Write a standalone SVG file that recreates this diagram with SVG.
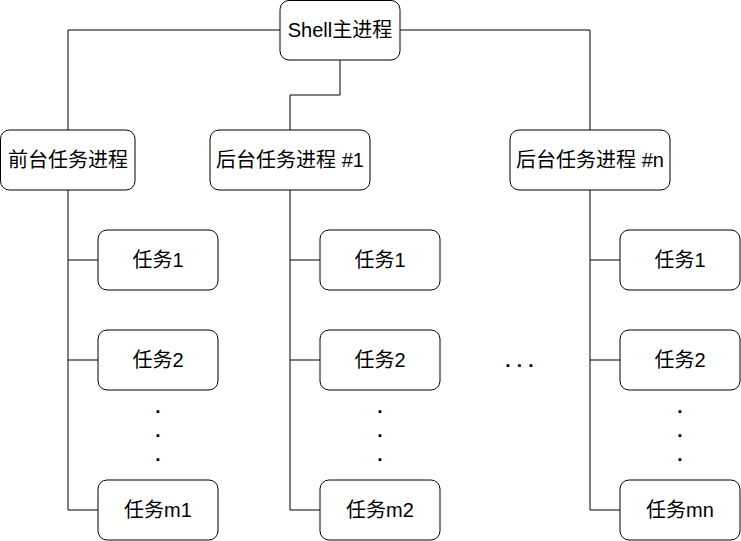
<svg xmlns="http://www.w3.org/2000/svg" width="741" height="541" viewBox="0 0 741 541">
<style>
.box{fill:#fff;stroke:#000;stroke-width:1}
.lbl{font-family:"Liberation Sans","Noto Sans CJK SC",sans-serif;font-size:20px;fill:#000;text-anchor:middle;dominant-baseline:central}
.dot{font-family:"Liberation Sans","Noto Sans CJK SC",sans-serif;font-size:19px;font-weight:bold;fill:#000;text-anchor:middle}
.c{fill:none;stroke:#000;stroke-width:1}
</style>
<rect width="741" height="541" fill="#fff"/>
<g id="connectors">
<path class="c" d="M280 30 H68 V130"/>
<path class="c" d="M400 30 H590 V130"/>
<path class="c" d="M340 60 V95 H290 V130"/>
<path class="c" d="M68 190 V510 H98 M68 260 H98 M68 360 H98"/>
<path class="c" d="M290 190 V510 H320 M290 260 H320 M290 360 H320"/>
<path class="c" d="M590 190 V510 H620 M590 260 H620 M590 360 H620"/>
</g>
<g id="shell"><rect class="box" x="280" y="0.5" width="120" height="59.5" rx="9"/><text class="lbl" x="340" y="30">Shell主进程</text></g>
<g id="fg"><rect class="box" x="0.5" y="130" width="134.5" height="60" rx="9"/><text class="lbl" x="68" y="160">前台任务进程</text></g>
<g id="bg1"><rect class="box" x="210" y="130" width="160" height="60" rx="9"/><text class="lbl" x="290" y="160">后台任务进程 #1</text></g>
<g id="bgn"><rect class="box" x="510" y="130" width="160" height="60" rx="9"/><text class="lbl" x="590" y="160">后台任务进程 #n</text></g>
<g id="fg-t1"><rect class="box" x="98" y="230" width="120" height="60" rx="9"/><text class="lbl" x="158" y="260">任务1</text></g>
<g id="fg-t2"><rect class="box" x="98" y="330" width="120" height="60" rx="9"/><text class="lbl" x="158" y="360">任务2</text></g>
<g id="fg-tm"><rect class="box" x="98" y="480" width="120" height="60" rx="9"/><text class="lbl" x="158" y="510">任务m1</text></g>
<g id="bg1-t1"><rect class="box" x="320" y="230" width="120" height="60" rx="9"/><text class="lbl" x="380" y="260">任务1</text></g>
<g id="bg1-t2"><rect class="box" x="320" y="330" width="120" height="60" rx="9"/><text class="lbl" x="380" y="360">任务2</text></g>
<g id="bg1-tm"><rect class="box" x="320" y="480" width="120" height="60" rx="9"/><text class="lbl" x="380" y="510">任务m2</text></g>
<g id="bgn-t1"><rect class="box" x="620" y="230" width="120" height="60" rx="9"/><text class="lbl" x="680" y="260">任务1</text></g>
<g id="bgn-t2"><rect class="box" x="620" y="330" width="120" height="60" rx="9"/><text class="lbl" x="680" y="360">任务2</text></g>
<g id="bgn-tm"><rect class="box" x="620" y="480" width="120" height="60" rx="9"/><text class="lbl" x="680" y="510">任务mn</text></g>
<g id="dots">
<text class="dot" x="158" y="412.5">.</text><text class="dot" x="158" y="436.5">.</text><text class="dot" x="158" y="460.5">.</text>
<text class="dot" x="380" y="412.5">.</text><text class="dot" x="380" y="436.5">.</text><text class="dot" x="380" y="460.5">.</text>
<text class="dot" x="680" y="412.5">.</text><text class="dot" x="680" y="436.5">.</text><text class="dot" x="680" y="460.5">.</text>
<text class="dot" x="508" y="366.5">.</text><text class="dot" x="519.5" y="366.5">.</text><text class="dot" x="531" y="366.5">.</text>
</g>
</svg>
